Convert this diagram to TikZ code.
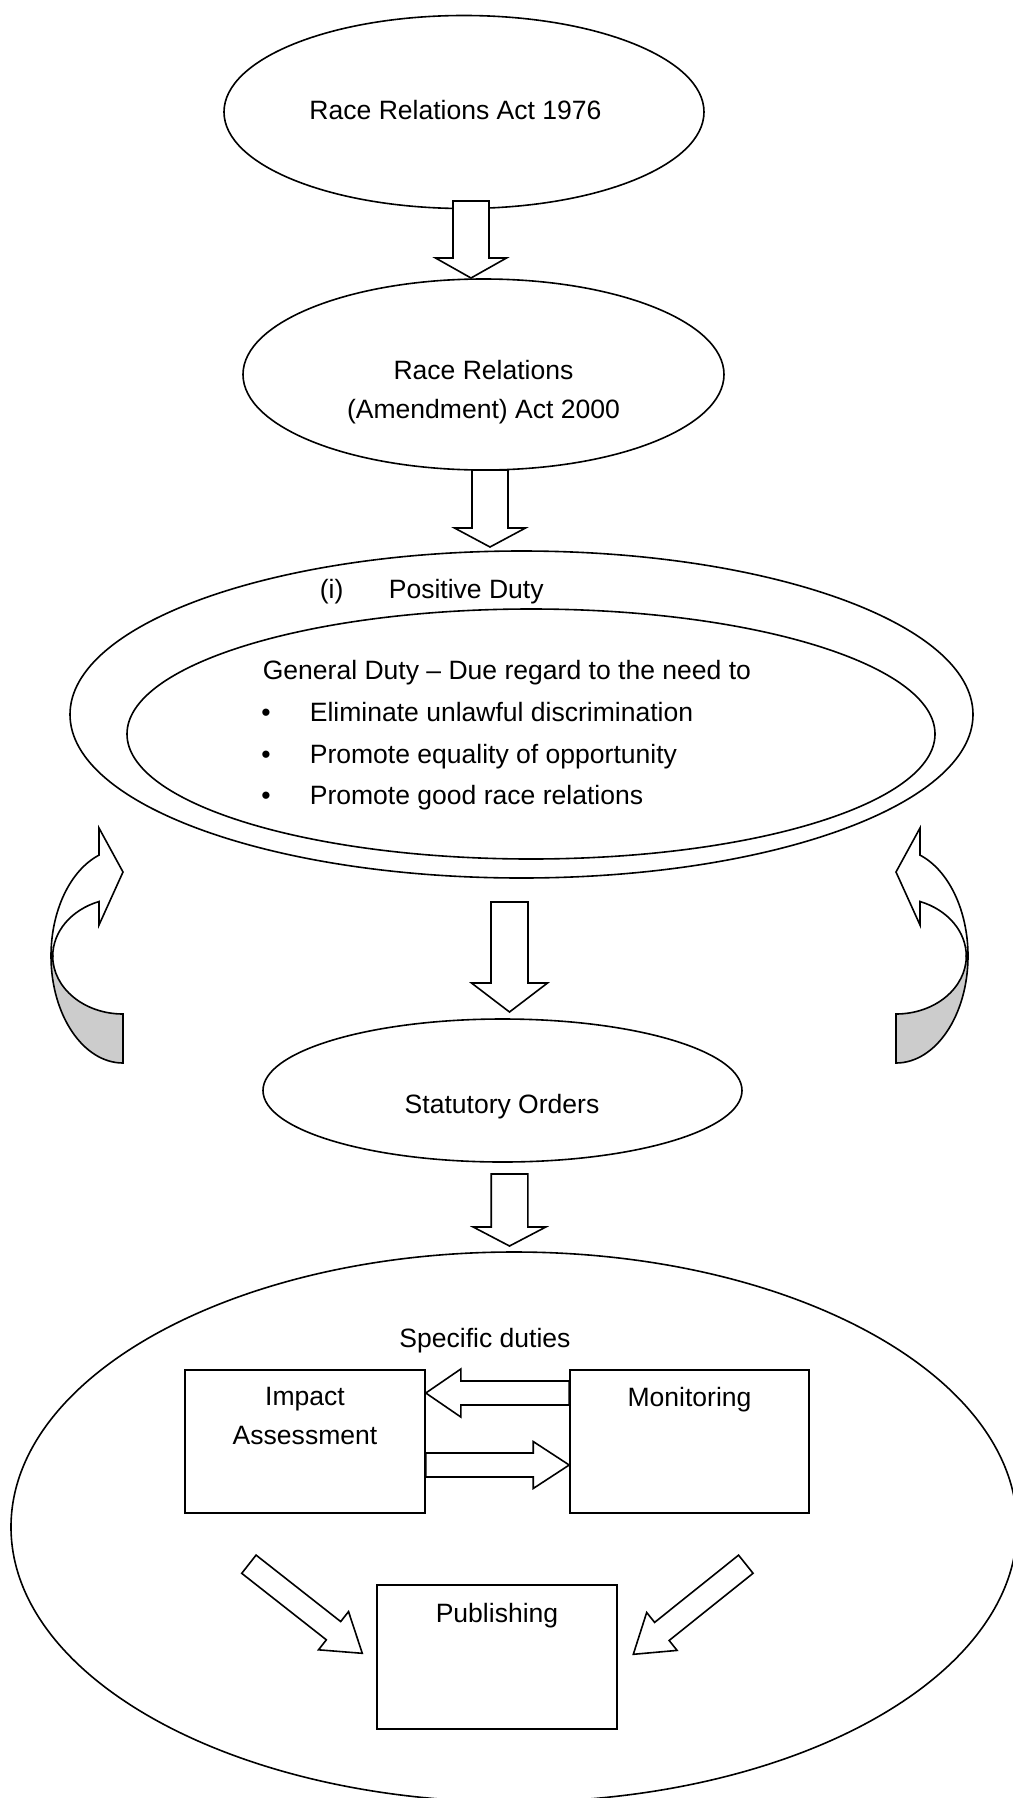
\documentclass[tikz,border=0pt]{standalone}
\usepackage{fontspec}
\setmainfont{Liberation Sans}
\usetikzlibrary{shapes.geometric,calc}

\tikzset{every picture/.style={line width=1.2pt}}
\tikzset{
  ell/.style 2 args={draw, ellipse, minimum width=#1*0.75pt, minimum height=#2*0.75pt, inner sep=0pt},
  dutybox/.style 2 args={draw, rectangle, minimum width=#1*0.75pt, minimum height=#2*0.75pt, inner sep=0pt},
  txt/.style={inner sep=0pt, align=center}
}

% block arrow: from, to, shaft half width, head half width, head length
\newcommand{\blockarrow}[5]{%
  \coordinate (hb) at ($(#2)!#5*0.75pt!(#1)$);
  \draw[fill=white] ($(#1)!#3*0.75pt!90:(#2)$) -- ($(hb)!#3*0.75pt!-90:(#1)$) -- ($(hb)!#4*0.75pt!-90:(#1)$) -- (#2) -- ($(hb)!#4*0.75pt!90:(#1)$) -- ($(hb)!#3*0.75pt!90:(#1)$) -- ($(#1)!#3*0.75pt!-90:(#2)$) -- cycle ;}

% curved arrow beside the duty ellipse
\newcommand{\curvedarrow}{%
  \draw[fill=black!20] (52.7,956) arc[start angle=180, end angle=90, x radius=70.3, y radius=58] -- (123,1063) arc[start angle=90, end angle=180, x radius=72, y radius=107] -- cycle ;
  \draw[fill=white] (51,956) arc[start angle=180, end angle=250.5, x radius=72, y radius=107] -- (99,828) -- (123,872) -- (99,925) -- (99,901.5) arc[start angle=250, end angle=180, x radius=70.3, y radius=58] -- cycle ;}

\begin{document}
\begin{tikzpicture}[x=0.75pt,y=0.75pt,yscale=-1,xscale=1, font=\fontsize{19.9}{29.25}\selectfont]
\useasboundingbox (0,0) rectangle (1013,1798);

%Shape: Ellipse
\node[ell={480}{193}] (act) at (464,112) {};
%Shape: Ellipse
\node[ell={481}{191}] (amend) at (483.5,374.5) {};
%Shape: Ellipse
\node[ell={903}{327}] (positive) at (521.5,714.5) {};
%Shape: Ellipse
\node[ell={808}{250}] (general) at (531,734) {};
%Shape: Ellipse
\node[ell={479}{143}] (orders) at (502.5,1090.5) {};
%Shape: Ellipse
\node[ell={1006}{550}] (specific) at (514,1527) {};

%Shape: Rectangle
\node[dutybox={240}{143}] (impact) at (305,1441.5) {};
%Shape: Rectangle
\node[dutybox={239}{143}] (monitor) at (689.5,1441.5) {};
%Shape: Rectangle
\node[dutybox={240}{144}] (publish) at (497,1657) {};

%Block Arrows
\coordinate (a1s) at (471,201);   \coordinate (a1e) at (471,278);
\coordinate (a2s) at (490,470);   \coordinate (a2e) at (490,547);
\coordinate (a3s) at (509.5,902); \coordinate (a3e) at (509.5,1012);
\coordinate (a4s) at (509.5,1174); \coordinate (a4e) at (509.5,1246);
\blockarrow{a1s}{a1e}{18}{35.5}{20}
\blockarrow{a2s}{a2e}{18}{35.5}{19}
\blockarrow{a3s}{a3e}{18.5}{38}{29}
\blockarrow{a4s}{a4e}{18.3}{36.3}{19}

%Block Arrows between the boxes
\coordinate (m1) at ($(monitor.west)+(0,-48.5)$);  \coordinate (i1) at ($(impact.east)+(0,-48.5)$);
\coordinate (i2) at ($(impact.east)+(0,23.5)$);    \coordinate (m2) at ($(monitor.west)+(0,23.5)$);
\blockarrow{m1}{i1}{12}{24}{35}
\blockarrow{i2}{m2}{12}{23.5}{36}

%Block Arrows to publishing
\coordinate (d1s) at (248.9,1564.2); \coordinate (d1e) at (362.3,1653.3);
\coordinate (d2s) at (745.8,1564.2); \coordinate (d2e) at (633.3,1654.3);
\blockarrow{d1s}{d1e}{11.6}{24.3}{36.6}
\blockarrow{d2s}{d2e}{11.6}{24.3}{36.6}

%Curved Arrows
\curvedarrow
\begin{scope}[shift={(1019,0)}, xscale=-1]
\curvedarrow
\end{scope}

% Text Node
\node[txt, anchor=base] (acttxt) at (455.5,119.5) {Race Relations Act 1976};
% Text Node
\node[txt] (amendtxt) at (483.5,392) {Race Relations\\(Amendment) Act 2000};
% Text Node
\node[txt, anchor=base west] (numi) at (319,598) {(i)};
\node[txt, anchor=base west] (positivetxt) at (388,598) {Positive Duty};
% Text Node
\node[txt, anchor=base west] (generaltxt) at (262,679.5) {General Duty – Due regard to the need to};
\node[txt, anchor=base] (b1) at (266,721.5) {•};
\node[txt, anchor=base west] (l1) at (309,721.5) {Eliminate unlawful discrimination};
\node[txt, anchor=base] (b2) at (266,763) {•};
\node[txt, anchor=base west] (l2) at (309,763) {Promote equality of opportunity};
\node[txt, anchor=base] (b3) at (266,804.5) {•};
\node[txt, anchor=base west] (l3) at (309,804.5) {Promote good race relations};
% Text Node
\node[txt, anchor=base] (orderstxt) at (502,1113) {Statutory Orders};
% Text Node
\node[txt, anchor=base] (specifictxt) at (485,1347) {Specific duties};
% Text Node
\node[txt, anchor=north] (impacttxt) at ($(impact.north)+(0,17.5)$) {Impact\\Assessment};
\node[txt, anchor=north] (monitortxt) at ($(monitor.north)+(0,17.5)$) {Monitoring};
\node[txt, anchor=north] (publishtxt) at ($(publish.north)+(0,18.5)$) {Publishing};

\end{tikzpicture}
\end{document}
